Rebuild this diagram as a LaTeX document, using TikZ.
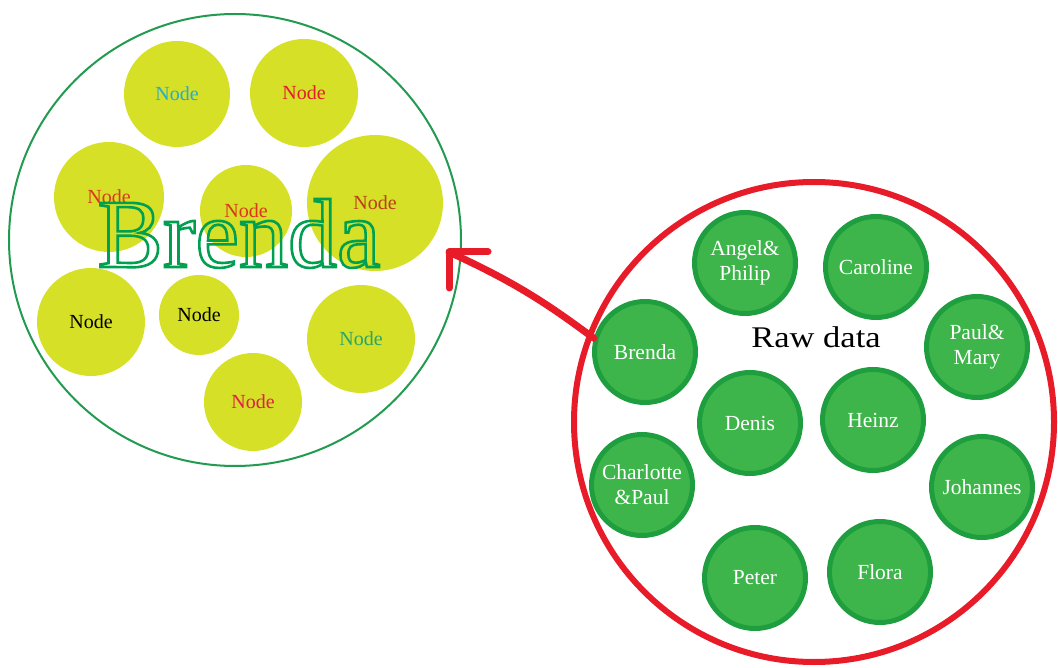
\documentclass[tikz,border=0pt]{standalone}
\usepackage{fontspec}
\setmainfont{Liberation Serif}
\newfontfamily\rawfont[FakeStretch=1.15]{Liberation Serif}

\definecolor{leafyellow}{RGB}{213,224,38}
\definecolor{ringgreen}{RGB}{34,155,80}
\definecolor{nodegreen}{RGB}{62,181,74}
\definecolor{nodeborder}{RGB}{30,158,62}
\definecolor{alarmred}{RGB}{232,28,40}
\definecolor{brendagreen}{RGB}{0,160,80}
\definecolor{tcyan}{RGB}{40,170,205}
\definecolor{tred}{RGB}{225,30,45}
\definecolor{torange}{RGB}{220,55,30}
\definecolor{tdkorange}{RGB}{190,60,30}
\definecolor{tteal}{RGB}{40,165,110}
\definecolor{tcrimson}{RGB}{225,30,70}

% stroke-only glyphs (PDF text render mode 1)
\newcommand\outlinetext[1]{%
  \special{pdf:literal direct 0 0.627 0.314 RG 2.6 w 1 Tr}#1%
  \special{pdf:literal direct 0 Tr}}

\begin{document}
\begin{tikzpicture}[x=1pt,y=1pt,
  leaf/.style={circle,fill=leafyellow,inner sep=0pt,minimum size=#1,
    font=\fontsize{20}{22}\selectfont},
  person/.style={circle,fill=nodegreen,draw=nodeborder,line width=5pt,
    inner sep=0pt,minimum size=101pt,text=white,align=center,
    font=\fontsize{21.5}{25}\selectfont},
  ring/.style={draw=ringgreen,line width=2pt},
  redring/.style={draw=alarmred,line width=6pt},
  redarrow/.style={draw=alarmred,line width=7pt,line cap=round,line join=round}]

\useasboundingbox (0,0) rectangle (1058,-668);

% left group: the selected person expanded
\node[ring,circle,minimum size=452pt,inner sep=0pt] (group) at (235,-240) {};

\node[leaf=106pt,text=tcyan]     (n1) at (177,-94)  {Node};
\node[leaf=108pt,text=tred]      (n2) at (304,-93)  {Node};
\node[leaf=110pt,text=torange]   (n3) at (109,-197) {Node};
\node[leaf=92pt,text=torange]    (n4) at (246,-211) {Node};
\node[leaf=136pt,text=tdkorange] (n5) at (375,-203) {Node};
\node[leaf=108pt,text=black]     (n6) at (91,-322)  {Node};
\node[leaf=80pt,text=black]      (n7) at (199,-315) {Node};
\node[leaf=108pt,text=tteal]     (n8) at (361,-339) {Node};
\node[leaf=98pt,text=tcrimson]   (n9) at (253,-402) {Node};

\node[anchor=base,inner sep=0pt,text=brendagreen,
  font=\fontsize{98}{98}\selectfont] (title) at (239,-267) {\outlinetext{Brenda}};

% right group: raw data
\node[redring,circle,minimum size=480pt,inner sep=0pt] (raw) at (814,-422) {};
\node[anchor=base,inner sep=0pt,font=\rawfont\fontsize{30}{30}\selectfont]
  (rawlabel) at (816,-348) {Raw data};

\node[person] (angel)     at (745,-263) {Angel\&\\Philip};
\node[person] (caroline)  at (876,-267) {Caroline};
\node[person] (brenda)    at (645,-352) {Brenda};
\node[person] (paulmary)  at (977,-347) {Paul\&\\Mary};
\node[person] (denis)     at (750,-423) {Denis};
\node[person] (heinz)     at (873,-420) {Heinz};
\node[person] (charlotte) at (642,-485) {Charlotte\\\&Paul};
\node[person] (johannes)  at (982,-487) {Johannes};
\node[person] (peter)     at (755,-578) {Peter};
\node[person] (flora)     at (880,-572) {Flora};

% arrow from Brenda to her expanded view
\coordinate (tip) at (449,-252);
\draw[redarrow] (brenda.165) to[bend right=6] (tip);
\draw[redarrow] ([xshift=39pt]tip) -- (tip) -- ([yshift=-36pt]tip);

\end{tikzpicture}
\end{document}
